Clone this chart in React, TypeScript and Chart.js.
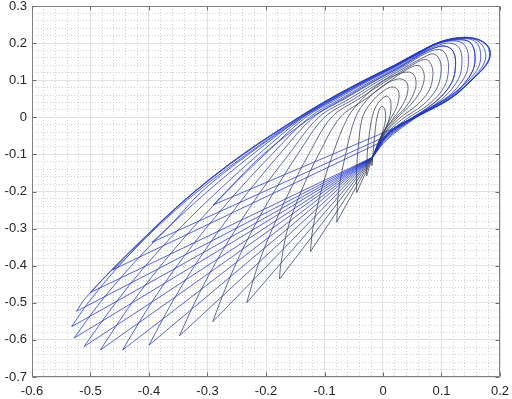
import React, { useEffect, useRef } from "react";
import { Chart, registerables } from "chart.js";

Chart.register(...registerables);

// ---- axis ranges / ticks ----
const xRange = [-0.6, 0.2];
const yRange = [-0.7, 0.3];
const majorStep = 0.1;
const minorStep = 0.02;

// common waist point where the return paths gather
const waist: number[] = [-0.018, -0.108];
const W = waist;

// ---- each loop of the trajectory: tip first, then the curve back to the waist ----
const loopA = [[-0.019,-0.13],[-0.016,-0.08],[-0.013,-0.03],[-0.009,0.008],[-0.003,0.029],[0.003,0.022],[0.004,-0.01],[-0.003,-0.05],[-0.012,-0.088],W];
const loopB = [[-0.028,-0.158],[-0.027,-0.1],[-0.023,-0.04],[-0.016,0.015],[-0.005,0.045],[0.006,0.057],[0.013,0.045],[0.012,0.005],[0.002,-0.04],[-0.01,-0.08],W];
const loop01 = [[-0.045,-0.203],[-0.045,-0.14],[-0.042,-0.075],[-0.035,0.0],[-0.02,0.04],[0.0,0.07],[0.017,0.082],[0.027,0.068],[0.024,0.03],[0.01,-0.012],[-0.004,-0.055],W];
const loop02 = [[-0.079,-0.282],[-0.076,-0.2],[-0.064,-0.1],[-0.047,0.0],[-0.026,0.05],[0.0,0.085],[0.018,0.1],[0.032,0.103],[0.042,0.09],[0.04,0.055],[0.026,0.015],[0.007,-0.025],[-0.005,-0.06],W];
const loop03 = [[-0.124,-0.362],[-0.12,-0.3],[-0.106,-0.2],[-0.086,-0.1],[-0.06,0.0],[-0.035,0.05],[-0.005,0.092],[0.02,0.113],[0.045,0.122],[0.055,0.108],[0.055,0.075],[0.04,0.03],[0.016,-0.01],[-0.003,-0.05],W];
const loop04 = [[-0.177,-0.436],[-0.175,-0.4],[-0.163,-0.3],[-0.14,-0.2],[-0.11,-0.1],[-0.073,0.0],[-0.029,0.05],[0.014,0.1],[0.04,0.128],[0.06,0.14],[0.069,0.124],[0.07,0.098],[0.062,0.065],[0.045,0.03],[0.022,-0.005],[0.002,-0.045],W];
const loop05 = [[-0.233,-0.5],[-0.214,-0.4],[-0.189,-0.3],[-0.16,-0.2],[-0.127,-0.1],[-0.088,0.0],[-0.041,0.05],[0.008,0.1],[0.049,0.14],[0.073,0.156],[0.083,0.14],[0.085,0.108],[0.078,0.07],[0.058,0.033],[0.028,-0.003],[0.003,-0.045],W];
const loop06 = [[-0.291,-0.551],[-0.279,-0.5],[-0.253,-0.4],[-0.222,-0.3],[-0.186,-0.2],[-0.146,-0.1],[-0.1,0.0],[-0.049,0.05],[0.001,0.1],[0.044,0.14],[0.07,0.162],[0.086,0.171],[0.097,0.155],[0.099,0.118],[0.091,0.075],[0.068,0.033],[0.032,-0.006],[0.003,-0.05],W];
const loop07 = [[-0.348,-0.589],[-0.322,-0.5],[-0.289,-0.4],[-0.251,-0.3],[-0.209,-0.2],[-0.161,-0.1],[-0.11,0.0],[-0.057,0.05],[-0.005,0.1],[0.039,0.14],[0.07,0.17],[0.096,0.183],[0.108,0.168],[0.112,0.13],[0.105,0.083],[0.08,0.037],[0.038,-0.007],[0.004,-0.052],W];
const loop08 = [[-0.4,-0.614],[-0.361,-0.5],[-0.322,-0.4],[-0.278,-0.3],[-0.23,-0.2],[-0.177,-0.1],[-0.119,0.0],[-0.065,0.05],[-0.011,0.1],[0.035,0.14],[0.066,0.17],[0.088,0.187],[0.106,0.192],[0.12,0.178],[0.124,0.14],[0.117,0.092],[0.09,0.042],[0.044,-0.008],[0.005,-0.054],W];
const loop09 = [[-0.445,-0.627],[-0.435,-0.6],[-0.396,-0.5],[-0.352,-0.4],[-0.303,-0.3],[-0.249,-0.2],[-0.19,-0.1],[-0.126,0.0],[-0.072,0.05],[-0.017,0.1],[0.031,0.14],[0.063,0.17],[0.09,0.192],[0.114,0.2],[0.13,0.188],[0.135,0.153],[0.129,0.103],[0.1,0.048],[0.05,-0.005],[0.005,-0.056],W];
const loop10 = [[-0.483,-0.627],[-0.472,-0.6],[-0.429,-0.5],[-0.38,-0.4],[-0.326,-0.3],[-0.267,-0.2],[-0.202,-0.1],[-0.132,0.0],[-0.078,0.05],[-0.022,0.1],[0.027,0.14],[0.06,0.17],[0.092,0.197],[0.121,0.206],[0.139,0.196],[0.146,0.163],[0.141,0.113],[0.112,0.057],[0.055,0.0],[0.006,-0.058],W];
const loop11 = [[-0.511,-0.618],[-0.503,-0.6],[-0.457,-0.5],[-0.406,-0.4],[-0.348,-0.3],[-0.283,-0.2],[-0.213,-0.1],[-0.136,0.0],[-0.082,0.05],[-0.025,0.1],[0.024,0.14],[0.058,0.17],[0.094,0.2],[0.127,0.209],[0.148,0.203],[0.157,0.173],[0.153,0.124],[0.124,0.068],[0.06,0.003],[0.007,-0.06],W];
const loop12 = [[-0.528,-0.595],[-0.484,-0.5],[-0.43,-0.4],[-0.369,-0.3],[-0.3,-0.2],[-0.223,-0.1],[-0.139,0.0],[-0.086,0.05],[-0.028,0.1],[0.022,0.14],[0.057,0.17],[0.095,0.201],[0.131,0.212],[0.155,0.207],[0.166,0.182],[0.164,0.138],[0.145,0.097],[0.113,0.052],[0.06,0.005],[0.016,-0.032],[-0.002,-0.066],W];
const loop13 = [[-0.532,-0.564],[-0.504,-0.5],[-0.451,-0.4],[-0.389,-0.3],[-0.317,-0.2],[-0.233,-0.1],[-0.141,0.0],[-0.088,0.05],[-0.03,0.1],[0.021,0.14],[0.056,0.17],[0.096,0.202],[0.133,0.213],[0.158,0.209],[0.172,0.188],[0.175,0.155],[0.158,0.113],[0.116,0.053],[0.06,0.006],[0.018,-0.03],[-0.004,-0.066],W];
const loop14 = [[-0.524,-0.523],[-0.51,-0.49],[-0.456,-0.4],[-0.391,-0.3],[-0.321,-0.2],[-0.238,-0.1],[-0.143,0.0],[-0.09,0.05],[-0.031,0.1],[0.02,0.14],[0.055,0.17],[0.097,0.202],[0.132,0.214],[0.16,0.21],[0.178,0.192],[0.182,0.165],[0.174,0.138],[0.156,0.108],[0.116,0.052],[0.061,0.005],[0.019,-0.031],[-0.005,-0.066],W];
const loop15 = [[-0.5,-0.472],[-0.457,-0.4],[-0.392,-0.3],[-0.322,-0.2],[-0.24,-0.1],[-0.144,0.0],[-0.091,0.05],[-0.032,0.1],[0.019,0.14],[0.054,0.17],[0.097,0.203],[0.132,0.215],[0.161,0.211],[0.18,0.191],[0.183,0.164],[0.175,0.138],[0.157,0.108],[0.117,0.052],[0.062,0.005],[0.02,-0.031],[-0.005,-0.068]];
const loop16 = [[-0.462,-0.411],[-0.44,-0.38],[-0.392,-0.3],[-0.322,-0.2],[-0.24,-0.1],[-0.144,0.0],[-0.091,0.05],[-0.032,0.1],[0.019,0.14],[0.054,0.17],[0.097,0.203],[0.132,0.215],[0.161,0.211],[0.18,0.191],[0.183,0.164],[0.175,0.138],[0.157,0.108],[0.117,0.052],[0.062,0.005],[0.02,-0.031],[0.004,-0.052]];
const loop17 = [[-0.395,-0.337],[-0.36,-0.285],[-0.31,-0.2],[-0.23,-0.1],[-0.138,0.0],[-0.084,0.05],[-0.026,0.1],[0.024,0.14],[0.058,0.17],[0.094,0.2],[0.127,0.209],[0.148,0.203],[0.157,0.173],[0.153,0.124],[0.124,0.068],[0.062,0.01],[0.018,-0.03]];
const loop18 = [[-0.29,-0.236],[-0.265,-0.195],[-0.205,-0.1],[-0.122,0.0],[-0.068,0.05],[-0.013,0.1],[0.034,0.14],[0.064,0.17],[0.088,0.187],[0.106,0.192],[0.12,0.178],[0.124,0.14],[0.117,0.092],[0.09,0.042],[0.044,-0.008],[0.005,-0.054],W];

const loops = [loopA, loopB, loop01, loop02, loop03, loop04, loop05, loop06, loop07, loop08, loop09,
  loop10, loop11, loop12, loop13, loop14, loop15, loop16, loop17, loop18];

// ---- styles (colour of the curved part and of the straight run into each tip) ----
const arcColors = ["#343a48", "#343a48", "#343a48", "#343a4c", "#343a50", "#323a56", "#303a60",
  "#2d3a6e", "#2a3a80", "#263994", "#2237a8", "#1e36ba", "#1b34c8", "#1a33d0", "#1a33d4",
  "#1a33d6", "#1a33d6", "#1a33d6", "#1a33d6", "#1a33d6"];
const lineColors = ["#343a48", "#343a48", "#343a48", "#343a4e", "#323a58", "#2e3a6c", "#2a3a84",
  "#27399c", "#2437b0", "#2036c0", "#1d35ca", "#1b34d0", "#1a33d4", "#1a33d6", "#1a33d6",
  "#1a33d6", "#1a33d6", "#1a33d6", "#1a33d6", "#1a33d6"];

const FONT = "'Liberation Sans', Arial, Helvetica, sans-serif";

const fmt = (v: number) => {
  const r = Math.round(v * 10) / 10;
  return r === 0 ? "0" : String(r);
};
const isMajor = (v: number) => Math.abs(v * 10 - Math.round(v * 10)) < 1e-6;

const framePlugin = {
  id: "frame",
  afterDatasetsDraw(chart: any) {
    const { ctx, chartArea } = chart;
    const { left, top, right, bottom } = chartArea;
    const xs = chart.scales.x;
    const ys = chart.scales.y;
    ctx.save();
    ctx.strokeStyle = "#808080";
    ctx.lineWidth = 1;
    const L = Math.round(left) + 0.5, R = Math.round(right) - 0.5;
    const T = Math.round(top) + 0.5, B = Math.round(bottom) - 0.5;
    ctx.beginPath();
    ctx.rect(L, T, R - L, B - T);
    ctx.stroke();
    ctx.strokeStyle = "#6e6e6e";
    ctx.beginPath();
    xs.ticks.forEach((t: any) => {
      const p = Math.round(xs.getPixelForValue(t.value)) + 0.5;
      ctx.moveTo(p, B); ctx.lineTo(p, B - 4);
      ctx.moveTo(p, T); ctx.lineTo(p, T + 4);
    });
    ys.ticks.forEach((t: any) => {
      const p = Math.round(ys.getPixelForValue(t.value)) + 0.5;
      ctx.moveTo(L, p); ctx.lineTo(L + 4, p);
      ctx.moveTo(R, p); ctx.lineTo(R - 4, p);
    });
    ctx.stroke();
    ctx.restore();
  },
};

export default function App() {
  const ref = useRef<HTMLCanvasElement | null>(null);
  useEffect(() => {
    if (!ref.current) return;
    const datasets: any[] = [];
    loops.forEach((lp, i) => {
      const prev = i === 0 ? waist : loops[i - 1][loops[i - 1].length - 1];
      datasets.push({
        data: [{ x: prev[0], y: prev[1] }, { x: lp[0][0], y: lp[0][1] }],
        showLine: true, pointRadius: 0, borderWidth: 0.75, tension: 0,
        borderColor: lineColors[i],
      });
      datasets.push({
        data: lp.map((p) => ({ x: p[0], y: p[1] })),
        showLine: true, pointRadius: 0, borderWidth: 0.75, tension: 0.35,
        borderColor: arcColors[i],
      });
    });
    datasets.reverse();

    const tickFont = { family: FONT, size: 13 };
    const chart = new Chart(ref.current, {
      type: "scatter",
      data: { datasets },
      plugins: [framePlugin],
      options: {
        animation: false,
        responsive: false,
        maintainAspectRatio: false,
        devicePixelRatio: 1,
        layout: { padding: { top: 6, right: 12, left: 0, bottom: 0 } },
        plugins: { legend: { display: false }, tooltip: { enabled: false } },
        scales: {
          xMinor: {
            type: "linear", position: "bottom", min: xRange[0], max: xRange[1],
            ticks: { display: false, stepSize: minorStep, maxTicksLimit: 200 },
            grid: {
              drawTicks: false, lineWidth: 1,
              color: (c: any) => (c.tick && isMajor(c.tick.value) ? "rgba(0,0,0,0)" : "#cfcfcf"),
            },
            border: { display: false, dash: [1, 2] },
            afterFit: (s: any) => { s.height = 0; s.paddingLeft = 0; s.paddingRight = 0; },
          },
          yMinor: {
            type: "linear", position: "left", min: yRange[0], max: yRange[1],
            ticks: { display: false, stepSize: minorStep, maxTicksLimit: 200 },
            grid: {
              drawTicks: false, lineWidth: 1,
              color: (c: any) => (c.tick && isMajor(c.tick.value) ? "rgba(0,0,0,0)" : "#cfcfcf"),
            },
            border: { display: false, dash: [1, 2] },
            afterFit: (s: any) => { s.width = 0; s.paddingTop = 0; s.paddingBottom = 0; },
          },
          x: {
            type: "linear", position: "bottom", min: xRange[0], max: xRange[1],
            ticks: { stepSize: majorStep, callback: (v: any) => fmt(Number(v)), font: tickFont,
              color: "#262626", padding: 7, maxRotation: 0, autoSkip: false },
            grid: { color: "#e1e1e1", lineWidth: 1, drawTicks: false },
            border: { display: false },
            afterFit: (s: any) => { s.height = 22; s.paddingLeft = 0; s.paddingRight = 0; },
          },
          y: {
            type: "linear", position: "left", min: yRange[0], max: yRange[1],
            ticks: { stepSize: majorStep, callback: (v: any) => fmt(Number(v)), font: tickFont,
              color: "#262626", padding: 5, autoSkip: false },
            grid: { color: "#e1e1e1", lineWidth: 1, drawTicks: false },
            border: { display: false },
            afterFit: (s: any) => { s.width = 32; s.paddingTop = 0; s.paddingBottom = 0; },
          },
        },
      } as any,
    });
    return () => chart.destroy();
  }, []);

  return (
    <div style={{ position: "absolute", left: 0, top: 0, width: 512, height: 399, background: "#fff" }}>
      <canvas ref={ref} width={512} height={399} style={{ display: "block" }} />
    </div>
  );
}
